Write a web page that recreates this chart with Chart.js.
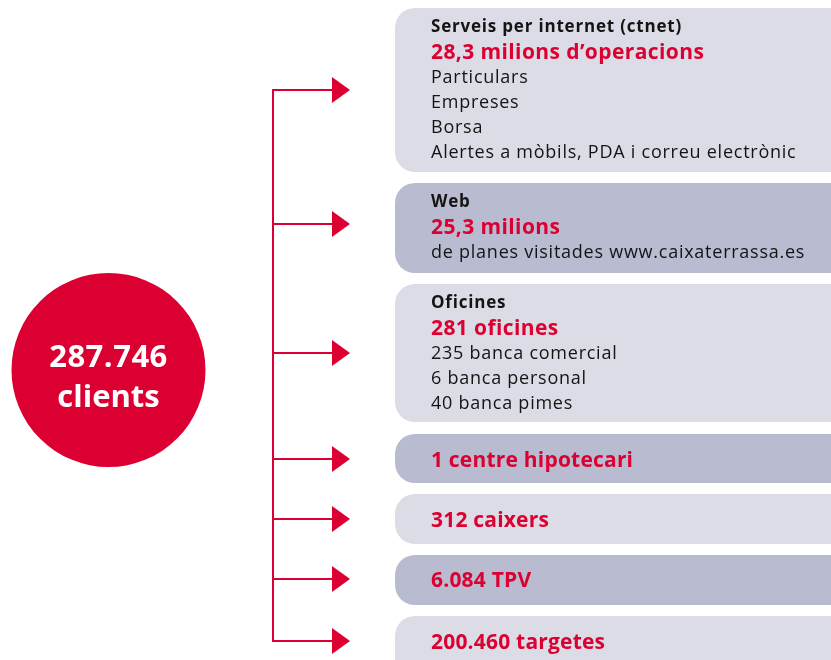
<!DOCTYPE html>
<html>
<head>
<meta charset="utf-8">
<script src="https://cdn.jsdelivr.net/npm/chart.js@4.4.0/dist/chart.umd.min.js"></script>
<style>
  html, body { margin: 0; padding: 0; background: #fff; }
  #wrap { width: 831px; height: 660px; position: relative; }
</style>
</head>
<body>
<div id="wrap"><canvas id="myChart"></canvas></div>
<script>
// values
const clientTotal = '287.746';
const clientWord = 'clients';
const channelTitles = ['Serveis per internet (ctnet)', 'Web', 'Oficines', '', '', '', ''];
const channelFigures = ['28,3 milions d’operacions', '25,3 milions', '281 oficines',
  '1 centre hipotecari', '312 caixers', '6.084 TPV', '200.460 targetes'];
const channelDetails = [
  ['Particulars', 'Empreses', 'Borsa', 'Alertes a mòbils, PDA i correu electrònic'],
  ['de planes visitades www.caixaterrassa.es'],
  ['235 banca comercial', '6 banca personal', '40 banca pimes'],
  [], [], [], []
];

// layout, in picture units (the hidden linear scales run 0..831 and 0..660)
const boxTop = [8, 183, 284, 434, 494, 555, 616];
const boxBottom = [172, 273, 422, 483, 544, 605, 690];
const arrowY = [90, 224, 353, 459, 519, 579, 641];
const boxLeft = 395, boxRight = 870, textLeft = 431;
const trunkX = 273, headX = 341;
const circleX = 108.5, circleY = 370, circleR = 97;

const red = '#dc0032';
const lightFill = '#dcdce6';
const darkFill = '#b9bcd0';
const ink = '#141414';
const face = '"Open Sans", Lato, sans-serif';

// arrow head as a point image
const head = document.createElement('canvas');
head.width = 18; head.height = 26;
const hctx = head.getContext('2d');
hctx.fillStyle = red;
hctx.beginPath();
hctx.moveTo(0, 0); hctx.lineTo(18, 13); hctx.lineTo(0, 26);
hctx.closePath(); hctx.fill();

let datasets = [];

// big red circle
datasets.push({
  type: 'scatter', data: [{x: circleX, y: circleY}],
  pointRadius: circleR, pointHoverRadius: circleR,
  backgroundColor: red, borderWidth: 0, clip: false
});

// trunk of the connector
datasets.push({
  type: 'line', data: [{x: trunkX, y: arrowY[0] - 1}, {x: trunkX, y: arrowY[arrowY.length - 1] + 1}],
  borderColor: red, borderWidth: 2, pointRadius: 0, clip: false
});

// branches
arrowY.forEach(v => {
  datasets.push({
    type: 'line', data: [{x: trunkX, y: v}, {x: headX - 6, y: v}],
    borderColor: red, borderWidth: 2, pointRadius: 0, clip: false
  });
});

// arrow heads
datasets.push({
  type: 'scatter', data: arrowY.map(v => ({x: headX, y: v})),
  pointStyle: head, pointRadius: 13, clip: false
});

const boardPlugin = {
  id: 'board',
  beforeDatasetsDraw(chart) {
    const ctx = chart.ctx, x = chart.scales.x, y = chart.scales.y;
    ctx.save();
    boxTop.forEach((t, i) => {
      const l = x.getPixelForValue(boxLeft), r = x.getPixelForValue(boxRight);
      const tp = y.getPixelForValue(t), bt = y.getPixelForValue(boxBottom[i]);
      ctx.fillStyle = i % 2 ? darkFill : lightFill;
      ctx.beginPath();
      ctx.roundRect(l, tp, r - l, bt - tp, 20);
      ctx.fill();
    });
    ctx.restore();
  },
  afterDatasetsDraw(chart) {
    const ctx = chart.ctx, x = chart.scales.x, y = chart.scales.y;
    ctx.save();
    ctx.textBaseline = 'alphabetic';
    ctx.textAlign = 'left';
    const tx = x.getPixelForValue(textLeft);
    boxTop.forEach((t, i) => {
      if (channelTitles[i]) {
        let base = t + 24;
        ctx.fillStyle = ink;
        ctx.font = 'bold 17px ' + face;
        ctx.letterSpacing = '0.8px';
        ctx.fillText(channelTitles[i], tx, y.getPixelForValue(base));
        base += 27;
        ctx.fillStyle = red;
        ctx.font = 'bold 21px ' + face;
        ctx.letterSpacing = '0.4px';
        ctx.fillText(channelFigures[i], tx, y.getPixelForValue(base));
        base += 24;
        ctx.fillStyle = ink;
        ctx.font = '18px ' + face;
        ctx.letterSpacing = '0.75px';
        channelDetails[i].forEach(line => {
          ctx.fillText(line, tx, y.getPixelForValue(base));
          base += 25;
        });
      } else {
        ctx.fillStyle = red;
        ctx.font = 'bold 21px ' + face;
        ctx.letterSpacing = '0.2px';
        ctx.fillText(channelFigures[i], tx, y.getPixelForValue(arrowY[i] + 8));
      }
    });
    // circle label
    ctx.fillStyle = '#fff';
    ctx.textAlign = 'center';
    ctx.font = 'bold 31px ' + face;
    ctx.letterSpacing = '0.5px';
    ctx.fillText(clientTotal, x.getPixelForValue(circleX), y.getPixelForValue(circleY - 3));
    ctx.letterSpacing = '0px';
    ctx.fillText(clientWord, x.getPixelForValue(circleX), y.getPixelForValue(circleY + 37));
    ctx.restore();
  }
};

new Chart(document.getElementById('myChart'), {
  type: 'scatter',
  data: { datasets: datasets },
  options: {
    responsive: true,
    maintainAspectRatio: false,
    animation: false,
    events: [],
    layout: { padding: 0, autoPadding: false },
    plugins: { legend: { display: false }, tooltip: { enabled: false } },
    scales: {
      x: { type: 'linear', min: 0, max: 831, display: false },
      y: { type: 'linear', min: 0, max: 660, reverse: true, display: false }
    }
  },
  plugins: [boardPlugin]
});
</script>
</body>
</html>
